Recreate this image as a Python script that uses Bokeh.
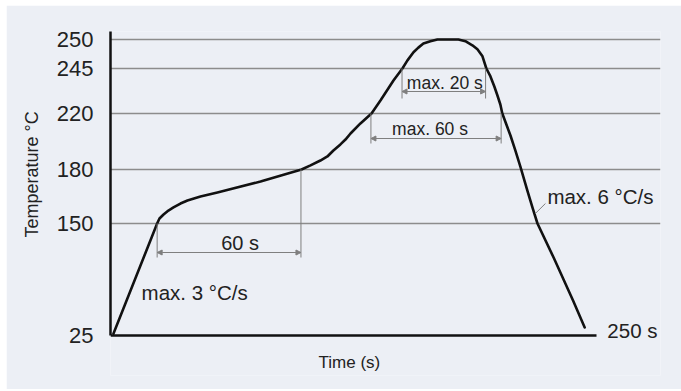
import numpy as np
from bokeh.plotting import figure
from bokeh.models import Range1d, FixedTicker, Arrow, NormalHead, LinearAxis, Title
from bokeh.core.properties import value
from bokeh.embed import file_html
from bokeh.resources import INLINE

# ---- data -------------------------------------------------------------
# temperature levels marked on the (schematic, not-to-scale) y axis
levels = [25, 150, 180, 220, 245, 250]
level_labels = ["25", "150", "180", "220", "245", "250"]
# schematic vertical position of each level on the drawing
level_pos = [0, 112, 166, 222, 267, 296]

time_end = 250  # s
time_end_label = "250 s"

# reflow profile (time in s, temperature in degC)
profile_t = [1.5, 24, 25.2, 27.3, 29.8, 32.4, 36, 39.6, 46.3, 55, 77.2, 98.3,
             102.9, 108, 111.6, 114.7, 118.3, 120.9, 123.5, 128.6, 134.3,
             138.9, 145.6, 150.2, 152.8, 155.9, 158.4, 161, 164.6, 168.2, 173.9,
             179, 182.6, 186.2, 188.8, 191.4, 193.4, 195.5, 197.5, 199.1, 200.6,
             201.6, 203.7, 205.8, 208.3, 210.9, 212.4, 214.5, 217.1, 219.7,
             228, 238, 244]
profile_T = [27, 150, 152.8, 155, 157.2, 158.9, 161.1, 162.8, 165, 167.2, 173.3, 180,
             182.9, 186.4, 189.3, 193.6, 197.9, 201.4, 205.7, 212.9, 220,
             227.2, 238.3, 245, 246.4, 247.8, 248.6, 249.3, 249.7, 250, 250,
             250, 249.7, 249, 248.3, 247.1, 245, 240.6, 235, 230, 225,
             220, 212.1, 204.3, 193.6, 182.1, 176.1, 168.3, 158.9, 150,
             112, 64, 34]

# dimension annotations: label, start time, end time, level of start, level of end
dim_labels = ["60 s", "max. 60 s", "max. 20 s"]
dim_t0 = [24, 134, 150]
dim_t1 = [98, 201, 193]
dim_T0 = [150, 220, 245]
dim_T1 = [180, 220, 245]

ramp_up_label = "max. 3 \u00b0C/s"
ramp_down_label = "max. 6 \u00b0C/s"
x_title = "Time (s)"
y_title = "Temperature \u00b0C"

# ---- styling ------------------------------------------------------------
PANEL = "#eceff5"
INK = "#222222"
GRID = "#8c8c8c"
DIM = "#7f7f7f"
FONT = "Liberation Sans"


def ypos(T):
    return np.interp(T, levels, level_pos)


p = figure(width=675, height=384,
           x_range=Range1d(0, 283), y_range=Range1d(-40, 304),
           x_axis_location=None,
           output_backend="svg", toolbar_location=None,
           min_border_left=104, min_border_right=21,
           min_border_top=26, min_border_bottom=14,
           background_fill_color=PANEL, border_fill_color=PANEL,
           outline_line_color=None, margin=(5, 0, 2, 6))

# y axis
p.yaxis.ticker = FixedTicker(ticks=[float(v) for v in level_pos])
p.yaxis.major_label_overrides = {float(pv): lab for pv, lab in zip(level_pos, level_labels)}
p.yaxis.bounds = (level_pos[0], 304)
p.yaxis.major_tick_out = 0
p.yaxis.major_tick_in = 0
p.yaxis.minor_tick_out = 0
p.yaxis.minor_tick_in = 0
p.yaxis.major_label_standoff = 17
p.yaxis.major_label_text_font = FONT
p.yaxis.major_label_text_font_size = "22px"
p.yaxis.major_label_text_color = INK
p.yaxis.axis_line_width = 2.5
p.yaxis.axis_line_color = "#111111"

# x axis (time): a bare line from 0 to 250 s, drawn at the 25 degC level
xaxis = LinearAxis(ticker=FixedTicker(ticks=[]), fixed_location=level_pos[0],
                   bounds=(0, time_end), major_tick_out=0, major_tick_in=0,
                   minor_tick_out=0, minor_tick_in=0, major_label_standoff=0,
                   axis_line_width=2.5, axis_line_color="#111111")
p.add_layout(xaxis, "below")

# y axis title
p.add_layout(Title(text=y_title, align="left", offset=138, standoff=22,
                   vertical_align="middle",
                   text_font=FONT, text_font_size="18px", text_font_style="normal",
                   text_color=INK), "left")

# grid at the temperature levels
p.xgrid.visible = False
p.ygrid.ticker = FixedTicker(ticks=[float(v) for v in level_pos[1:]])
p.ygrid.grid_line_color = GRID
p.ygrid.grid_line_width = 1.3

# profile curve
p.line(profile_t, ypos(profile_T), line_width=2.6, line_color="#111111",
       line_join="round", line_cap="round")

# dimension lines
ext_drop = [34, 30, 30]     # how far the extension lines go below the level (px)
arrow_drop = [29, 25, 23]   # where the dimension arrow sits below the level (px)
text_drop = [19, 15.5, 14.5]
text_dx = [11, -6, 1]
text_size = ["20px", "17.5px", "17.5px"]
for lab, t0, t1, T0, T1, ed, ad, td, dx, fs in zip(dim_labels, dim_t0, dim_t1, dim_T0, dim_T1,
                                                   ext_drop, arrow_drop, text_drop, text_dx, text_size):
    base = min(ypos(T0), ypos(T1))
    p.segment(x0=[t0, t1], y0=[ypos(T0), ypos(T1)], x1=[t0, t1], y1=[base - ed, base - ed],
              line_color=DIM, line_width=1)
    p.add_layout(Arrow(start=NormalHead(size=5, fill_color=DIM, line_color=DIM, line_width=1),
                       end=NormalHead(size=5, fill_color=DIM, line_color=DIM, line_width=1),
                       x_start=t0, x_end=t1, y_start=base - ad, y_end=base - ad,
                       line_color=DIM, line_width=1))
    p.text(x=[(t0 + t1) / 2], y=[base - td], text=[lab], x_offset=dx,
           text_align="center", text_baseline="middle",
           text_font=value(FONT), text_font_size=fs, text_color=INK)

# slope annotations
p.text(x=[16], y=[43], text=[ramp_up_label], text_align="left", text_baseline="middle",
       text_font=value(FONT), text_font_size="20.5px", text_color=INK)
p.text(x=[224.8], y=[139], text=[ramp_down_label], text_align="left", text_baseline="middle",
       text_font=value(FONT), text_font_size="20.5px", text_color=INK)
p.segment(x0=[218.6], y0=[122], x1=[223.8], y1=[132], line_color=DIM, line_width=1)

# end-of-axis label and x title
p.text(x=[time_end], y=[level_pos[0]], text=[time_end_label], x_offset=11, y_offset=-5,
       text_align="left", text_baseline="middle",
       text_font=value(FONT), text_font_size="20.5px", text_color=INK)
p.text(x=[time_end / 2], y=[level_pos[0]], text=[x_title], x_offset=-4, y_offset=27,
       text_align="center", text_baseline="middle",
       text_font=value(FONT), text_font_size="17px", text_color=INK)

open("out.html", "w").write(file_html(p, INLINE))
